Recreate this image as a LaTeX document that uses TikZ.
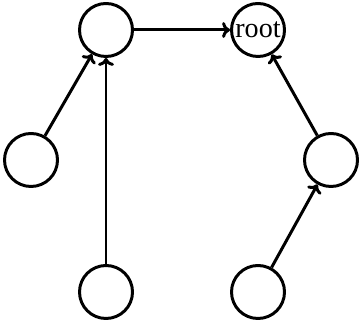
\documentclass[tikz,border=0pt]{standalone}
\usepackage{fontspec}
\setmainfont{Liberation Serif}
\usetikzlibrary{arrows.meta}
\begin{document}
\begin{tikzpicture}[line width=1.7pt, line join=round, >={To[length=4.5pt,width=9pt]},
	vertex/.style={draw, circle, minimum size=1.06cm, inner sep=0pt, font=\fontsize{16}{16}\selectfont}]
	\useasboundingbox (0,0) rectangle (7.2,6.42);
	\path
	(2.12,5.82) node[vertex] (p) {}
	(5.16,5.82) node[vertex] (root) {root}
	(0.62,3.22) node[vertex] (l) {}
	(6.62,3.22) node[vertex] (r) {}
	(2.12,0.58) node[vertex] (bl) {}
	(5.16,0.58) node[vertex] (br) {}
	;
	\draw[->] (p)--(root);
	\draw[->] (l)--(p);
	\draw[->] (bl)--(p);
	\draw[->] (br)--(r);
	\draw[->] (r)--(root);
\end{tikzpicture}
\end{document}
